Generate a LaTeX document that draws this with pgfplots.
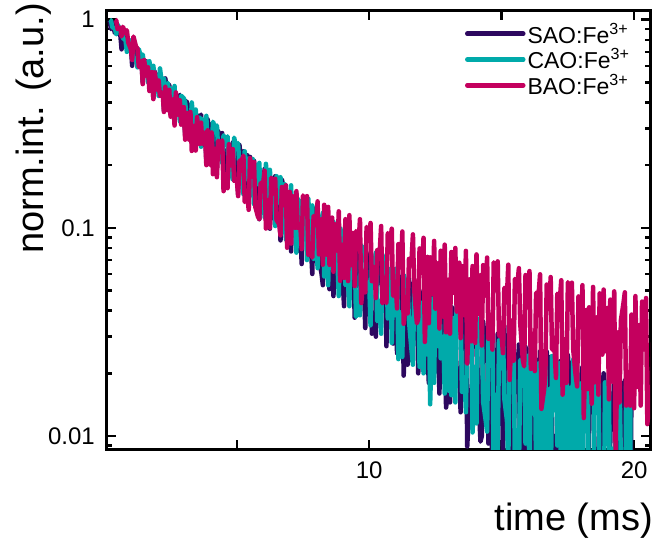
\documentclass[border=0pt]{standalone}
\usepackage{pgfplots}
\pgfplotsset{compat=1.18}
\usepackage{fontspec}
\setmainfont{Liberation Sans}

\definecolor{saoc}{RGB}{45,8,95}
\definecolor{caoc}{RGB}{0,170,170}
\definecolor{baoc}{RGB}{196,0,94}

\begin{document}
\begin{tikzpicture}
\useasboundingbox (-107pt,-96pt) rectangle (547pt,449pt);
\begin{axis}[
  scale only axis,
  width=543pt, height=438pt,
  ymode=log,
  xmin=0.1, xmax=20.6,
  ymin=0.00866, ymax=1.10,
  xtick={5,10,15,20},
  xticklabels={,10,,20},
  ytick={0.01,0.1,1},
  yticklabels={0.01,0.1,1},
  minor ytick={0.009,0.02,0.03,0.04,0.05,0.06,0.07,0.08,0.09,0.2,0.3,0.4,0.5,0.6,0.7,0.8,0.9},
  tick align=inside,
  major tick length=9pt,
  minor tick length=5pt,
  every tick/.style={black, line width=2.5pt},
  axis line style={line width=3pt},
  tick label style={font=\fontsize{24}{28}\selectfont, inner sep=0pt},
  xticklabel style={yshift=-13pt},
  yticklabel style={xshift=-12pt},
  xlabel={time (ms)},
  ylabel={norm.int. (a.u.)},
  label style={font=\fontsize{38}{42}\selectfont, inner sep=0pt},
  xlabel style={at={(axis description cs:1.0055,-0.1233)}, anchor=north east},
  ylabel style={at={(axis description cs:-0.1013,1.0183)}, anchor=south east},
  legend style={draw=none, fill=none, inner sep=0pt,
    font=\fontsize{23}{26}\selectfont,
    at={(axis description cs:0.659,0.978)}, anchor=north west,
    row sep=0pt},
  legend cell align=left,
  legend image code/.code={\draw[#1, line width=4.5pt, line cap=round] (0pt,0pt) -- (56pt,0pt);},
  every axis plot/.append style={line width=4.5pt, line join=round},
]
% SAO:Fe3+
\addplot[saoc] coordinates {
(0.2,0.99)(0.25,0.90)(0.3,0.975)(0.4,0.861)(0.45,0.91)(0.5,0.855)(0.6,0.856)(0.65,0.72)(0.7,0.849)(0.8,0.769)(0.85,0.815)(0.9,0.727)
(1.0,0.753)(1.05,0.60)(1.1,0.778)(1.2,0.638)(1.25,0.71)(1.3,0.614)(1.4,0.637)(1.45,0.50)(1.5,0.631)(1.6,0.629)(1.65,0.61)(1.7,0.507)(1.8,0.524)(1.85,0.42)(1.9,0.564)
(2.0,0.468)(2.05,0.545)(2.1,0.472)(2.2,0.501)(2.25,0.365)(2.3,0.522)(2.4,0.441)(2.45,0.485)(2.5,0.379)(2.6,0.380)(2.65,0.32)(2.7,0.432)(2.8,0.423)(2.85,0.435)(2.9,0.316)
(3.0,0.359)(3.05,0.28)(3.1,0.406)(3.2,0.363)(3.25,0.39)(3.3,0.306)(3.4,0.270)(3.45,0.245)(3.5,0.348)(3.6,0.333)(3.65,0.35)(3.7,0.250)(3.8,0.296)(3.85,0.21)(3.9,0.332)
(4.0,0.250)(4.05,0.315)(4.1,0.246)(4.2,0.296)(4.25,0.19)(4.3,0.291)(4.4,0.229)(4.45,0.285)(4.5,0.188)(4.6,0.235)(4.65,0.165)(4.7,0.251)(4.8,0.190)(4.85,0.257)(4.9,0.184)
(5.0,0.228)(5.05,0.145)(5.1,0.250)(5.2,0.188)(5.25,0.233)(5.3,0.182)(5.4,0.223)(5.45,0.127)(5.5,0.219)(5.6,0.146)(5.65,0.21)(5.7,0.127)(5.8,0.179)(5.85,0.11)(5.9,0.180)
(6.0,0.145)(6.05,0.192)(6.1,0.122)(6.2,0.173)(6.25,0.099)(6.3,0.173)(6.4,0.111)(6.45,0.177)(6.5,0.118)(6.6,0.142)(6.65,0.087)(6.7,0.171)(6.8,0.150)(6.85,0.161)(6.9,0.0947)
(7.0,0.106)(7.05,0.077)(7.1,0.130)(7.2,0.117)(7.25,0.146)(7.3,0.0775)(7.4,0.0998)(7.45,0.067)(7.5,0.131)(7.6,0.126)(7.65,0.132)(7.7,0.0863)(7.8,0.0807)(7.85,0.060)(7.9,0.124)
(8.0,0.102)(8.05,0.12)(8.1,0.0698)(8.2,0.0602)(8.25,0.053)(8.3,0.1006)(8.4,0.0953)(8.45,0.108)(8.5,0.0507)(8.6,0.0762)(8.65,0.047)(8.7,0.0993)(8.8,0.0886)(8.85,0.098)(8.9,0.0647)
(9.0,0.0554)(9.05,0.042)(9.1,0.0863)(9.2,0.0739)(9.25,0.090)(9.3,0.0462)(9.4,0.0842)(9.45,0.037)(9.5,0.0889)(9.6,0.0525)(9.65,0.083)(9.7,0.0472)(9.8,0.0541)(9.85,0.033)(9.9,0.0662)
(10.0,0.0688)(10.05,0.076)(10.1,0.0310)(10.2,0.0360)(10.25,0.030)(10.3,0.0707)(10.4,0.0543)(10.45,0.070)(10.5,0.0444)(10.6,0.0568)(10.65,0.027)(10.7,0.0619)(10.8,0.0349)(10.85,0.064)(10.9,0.0278)
(11.0,0.0573)(11.05,0.025)(11.1,0.0560)(11.2,0.0363)(11.25,0.059)(11.3,0.0195)(11.4,0.0398)(11.45,0.022)(11.5,0.0570)(11.6,0.0232)(11.65,0.054)(11.7,0.0294)(11.8,0.0458)(11.85,0.020)(11.9,0.0449)
(12.0,0.0394)(12.05,0.050)(12.1,0.0203)(12.2,0.0255)(12.25,0.018)(12.3,0.0517)(12.4,0.0428)(12.45,0.046)(12.5,0.0204)(12.6,0.0277)(12.65,0.016)(12.7,0.0350)(12.8,0.0347)(12.85,0.043)(12.9,0.0137)
(13.0,0.0173)(13.05,0.0145)(13.1,0.0417)(13.2,0.0402)(13.25,0.040)(13.3,0.0182)(13.4,0.0206)(13.45,0.013)(13.5,0.0372)(13.6,0.0265)(13.65,0.037)(13.7,0.0089)(13.8,0.0166)(13.85,0.0115)(13.9,0.0329)
(14.0,0.0295)(14.05,0.035)(14.1,0.0180)(14.2,0.0094)(14.25,0.010)(14.3,0.0355)(14.4,0.0250)(14.45,0.033)(14.5,0.0092)(14.6,0.0291)(14.65,0.003)(14.7,0.0260)(14.8,0.0040)(14.85,0.031)(14.9,0.0114)
(15.0,0.0262)(15.05,0.007)(15.1,0.0338)(15.2,0.0103)(15.25,0.029)(15.3,0.0085)(15.4,0.0203)(15.45,0.006)(15.5,0.0247)(15.6,0.0164)(15.65,0.0275)(15.7,0.0053)(15.8,0.0256)(15.85,0.005)(15.9,0.0268)
(16.0,0.0111)(16.05,0.026)(16.1,0.0106)(16.2,0.0201)(16.25,0.0045)(16.3,0.0233)(16.4,0.0056)(16.45,0.0255)(16.5,0.0024)(16.6,0.0209)(16.65,0.002)(16.7,0.0255)(16.8,0.0153)(16.85,0.024)(16.9,0.0082)
(17.0,0.0100)(17.05,0.0037)(17.1,0.0174)(17.2,0.0227)(17.25,0.023)(17.3,0.0037)(17.4,0.0071)(17.45,0.0035)(17.5,0.0245)(17.6,0.0156)(17.65,0.0225)(17.7,0.0058)(17.8,0.0104)(17.85,0.003)(17.9,0.0197)
(18.0,0.0182)(18.05,0.0215)(18.1,0.0019)(18.2,0.0040)(18.25,0.0028)(18.3,0.0158)(18.4,0.0159)(18.45,0.021)(18.5,0.0081)(18.6,0.0084)(18.65,0.0025)(18.7,0.0190)(18.8,0.0161)(18.85,0.020)(18.9,0.0007)
(19.0,0.0019)(19.05,0.002)(19.1,0.0160)(19.2,0.0129)(19.25,0.019)(19.3,0.0054)(19.4,0.0055)(19.45,0.002)(19.5,0.0180)(19.6,0.0148)(19.65,0.0185)(19.7,0.0025)(19.8,0.0078)(19.85,0.002)(19.9,0.0173)
(20.0,0.0158)
};
\addlegendentry{SAO:Fe\textsuperscript{3+}}
% CAO:Fe3+
\addplot[caoc] coordinates {
(0.2,1.0)(0.25,0.99)(0.3,0.919)(0.4,0.907)(0.45,0.85)(0.5,0.946)(0.6,0.891)(0.65,0.89)(0.7,0.815)(0.8,0.797)(0.85,0.70)(0.9,0.805)
(1.0,0.78)(1.05,0.80)(1.1,0.643)(1.2,0.651)(1.25,0.59)(1.3,0.722)(1.4,0.651)(1.45,0.68)(1.5,0.602)(1.6,0.627)(1.65,0.50)(1.7,0.631)(1.8,0.515)(1.85,0.60)(1.9,0.504)
(2.0,0.539)(2.05,0.43)(2.1,0.583)(2.2,0.466)(2.25,0.52)(2.3,0.432)(2.4,0.496)(2.45,0.37)(2.5,0.468)(2.6,0.392)(2.65,0.48)(2.7,0.353)(2.8,0.410)(2.85,0.325)(2.9,0.431)
(3.0,0.419)(3.05,0.40)(3.1,0.350)(3.2,0.329)(3.25,0.29)(3.3,0.400)(3.4,0.290)(3.45,0.37)(3.5,0.280)(3.6,0.338)(3.65,0.245)(3.7,0.333)(3.8,0.296)(3.85,0.345)(3.9,0.233)
(4.0,0.253)(4.05,0.215)(4.1,0.323)(4.2,0.300)(4.25,0.31)(4.3,0.234)(4.4,0.246)(4.45,0.205)(4.5,0.278)(4.6,0.256)(4.65,0.275)(4.7,0.189)(4.8,0.183)(4.85,0.17)(4.9,0.271)
(5.0,0.238)(5.05,0.255)(5.1,0.192)(5.2,0.212)(5.25,0.145)(5.3,0.233)(5.4,0.171)(5.45,0.215)(5.5,0.143)(5.6,0.214)(5.65,0.13)(5.7,0.201)(5.8,0.162)(5.85,0.205)(5.9,0.142)
(6.0,0.168)(6.05,0.112)(6.1,0.203)(6.2,0.128)(6.25,0.19)(6.3,0.142)(6.4,0.165)(6.45,0.102)(6.5,0.177)(6.6,0.132)(6.65,0.175)(6.7,0.0949)(6.8,0.162)(6.85,0.088)(6.9,0.144)
(7.0,0.100)(7.05,0.16)(7.1,0.0926)(7.2,0.128)(7.25,0.076)(7.3,0.138)(7.4,0.0995)(7.45,0.135)(7.5,0.0905)(7.6,0.124)(7.65,0.07)(7.7,0.138)(7.8,0.0748)(7.85,0.128)(7.9,0.0710)
(8.0,0.100)(8.05,0.064)(8.1,0.1028)(8.2,0.1095)(8.25,0.118)(8.3,0.0584)(8.4,0.0718)(8.45,0.053)(8.5,0.1045)(8.6,0.0835)(8.65,0.107)(8.7,0.0673)(8.8,0.0698)(8.85,0.047)(8.9,0.100)
(9.0,0.0911)(9.05,0.096)(9.1,0.0531)(9.2,0.0545)(9.25,0.042)(9.3,0.0817)(9.4,0.0752)(9.45,0.085)(9.5,0.0374)(9.6,0.041)(9.65,0.038)(9.7,0.0822)(9.8,0.0705)(9.85,0.081)(9.9,0.0511)
(10.0,0.055)(10.05,0.034)(10.1,0.0712)(10.2,0.0666)(10.25,0.076)(10.3,0.0356)(10.4,0.0378)(10.45,0.031)(10.5,0.0742)(10.6,0.0547)(10.65,0.068)(10.7,0.0367)(10.8,0.0635)(10.85,0.028)(10.9,0.0546)
(11.0,0.038)(11.05,0.064)(11.1,0.0234)(11.2,0.0393)(11.25,0.024)(11.3,0.0595)(11.4,0.0533)(11.45,0.052)(11.5,0.0358)(11.6,0.0256)(11.65,0.022)(11.7,0.0522)(11.8,0.0407)(11.85,0.054)(11.9,0.0215)
(12.0,0.0437)(12.05,0.020)(12.1,0.0475)(12.2,0.0246)(12.25,0.050)(12.3,0.0142)(12.4,0.0457)(12.45,0.018)(12.5,0.0491)(12.6,0.027)(12.65,0.046)(12.7,0.0236)(12.8,0.030)(12.85,0.016)(12.9,0.0381)
(13.0,0.0165)(13.05,0.043)(13.1,0.0157)(13.2,0.0369)(13.25,0.0145)(13.3,0.0451)(13.4,0.0313)(13.45,0.040)(13.5,0.0163)(13.6,0.0191)(13.65,0.013)(13.7,0.0304)(13.8,0.0343)(13.85,0.037)(13.9,0.0104)
(14.0,0.0215)(14.05,0.0115)(14.1,0.0367)(14.2,0.0283)(14.25,0.035)(14.3,0.0146)(14.4,0.0118)(14.45,0.0105)(14.5,0.0323)(14.6,0.0324)(14.65,0.033)(14.7,0.0063)(14.8,0.0158)(14.85,0.008)(14.9,0.0288)
(15.0,0.0212)(15.05,0.031)(15.1,0.0151)(15.2,0.0119)(15.25,0.007)(15.3,0.0321)(15.4,0.0246)(15.45,0.029)(15.5,0.0070)(15.6,0.0065)(15.65,0.006)(15.7,0.0232)(15.8,0.0207)(15.85,0.027)(15.9,0.0092)
(16.0,0.0243)(16.05,0.005)(16.1,0.0304)(16.2,0.0128)(16.25,0.026)(16.3,0.0066)(16.4,0.0223)(16.45,0.0045)(16.5,0.0219)(16.6,0.0078)(16.65,0.025)(16.7,0.0036)(16.8,0.0168)(16.85,0.004)(16.9,0.0242)
(17.0,0.0133)(17.05,0.024)(17.1,0.0090)(17.2,0.0224)(17.25,0.004)(17.3,0.0211)(17.4,0.0084)(17.45,0.023)(17.5,0.0013)(17.6,0.0171)(17.65,0.0035)(17.7,0.0233)(17.8,0.0040)(17.85,0.022)(17.9,0.0069)
(18.0,0.0179)(18.05,0.003)(18.1,0.0155)(18.2,0.0130)(18.25,0.0215)(18.3,0.0030)(18.4,0.0079)(18.45,0.003)(18.5,0.0223)(18.6,0.0198)(18.65,0.021)(18.7,0.0050)(18.8,0.0056)(18.85,0.0025)(18.9,0.0181)
(19.0,0.0135)(19.05,0.020)(19.1,0.0017)(19.2,0.0087)(19.25,0.002)(19.3,0.0142)(19.4,0.0165)(19.45,0.019)(19.5,0.0073)(19.6,0.0030)(19.65,0.002)(19.7,0.0173)(19.8,0.0141)(19.85,0.018)(19.9,0.0007)
(20.0,0.0071)
};
\addlegendentry{CAO:Fe\textsuperscript{3+}}
% BAO:Fe3+
\addplot[baoc] coordinates {
(0.4,1.0)(0.45,0.99)(0.5,0.900)(0.6,0.915)(0.65,0.83)(0.7,0.923)(0.8,0.857)(0.85,0.89)(0.9,0.778)
(1.0,0.722)(1.05,0.64)(1.1,0.829)(1.2,0.736)(1.25,0.73)(1.3,0.592)(1.4,0.634)(1.45,0.49)(1.5,0.640)(1.6,0.534)(1.65,0.59)(1.7,0.454)(1.8,0.560)(1.85,0.415)(1.9,0.558)
(2.0,0.459)(2.05,0.51)(2.1,0.430)(2.2,0.447)(2.25,0.36)(2.3,0.476)(2.4,0.367)(2.45,0.46)(2.5,0.342)(2.6,0.414)(2.65,0.31)(2.7,0.447)(2.8,0.349)(2.85,0.41)(2.9,0.313)
(3.0,0.380)(3.05,0.265)(3.1,0.356)(3.2,0.265)(3.25,0.36)(3.3,0.234)(3.4,0.309)(3.45,0.235)(3.5,0.340)(3.6,0.253)(3.65,0.32)(3.7,0.253)(3.8,0.287)(3.85,0.20)(3.9,0.294)
(4.0,0.201)(4.05,0.287)(4.1,0.181)(4.2,0.240)(4.25,0.175)(4.3,0.262)(4.4,0.252)(4.45,0.263)(4.5,0.150)(4.6,0.181)(4.65,0.155)(4.7,0.252)(4.8,0.199)(4.85,0.239)(4.9,0.168)
(5.0,0.172)(5.05,0.142)(5.1,0.209)(5.2,0.213)(5.25,0.222)(5.3,0.133)(5.4,0.142)(5.45,0.122)(5.5,0.216)(5.6,0.177)(5.65,0.207)(5.7,0.126)(5.8,0.113)(5.85,0.11)(5.9,0.164)
(6.0,0.165)(6.05,0.188)(6.1,0.0992)(6.2,0.136)(6.25,0.10)(6.3,0.174)(6.4,0.157)(6.45,0.172)(6.5,0.109)(6.6,0.104)(6.65,0.092)(6.7,0.157)(6.8,0.134)(6.85,0.16)(6.9,0.0802)
(7.0,0.149)(7.05,0.084)(7.1,0.142)(7.2,0.100)(7.25,0.15)(7.3,0.0999)(7.4,0.103)(7.45,0.079)(7.5,0.143)(7.6,0.128)(7.65,0.142)(7.7,0.0740)(7.8,0.0775)(7.85,0.072)(7.9,0.114)
(8.0,0.104)(8.05,0.134)(8.1,0.0745)(8.2,0.110)(8.25,0.0665)(8.3,0.129)(8.4,0.0743)(8.45,0.126)(8.5,0.0664)(8.6,0.112)(8.65,0.0615)(8.7,0.104)(8.8,0.0777)(8.85,0.12)(8.9,0.0556)
(9.0,0.083)(9.05,0.0575)(9.1,0.110)(9.2,0.0555)(9.25,0.115)(9.3,0.0661)(9.4,0.0944)(9.45,0.0525)(9.5,0.0964)(9.6,0.084)(9.65,0.11)(9.7,0.0435)(9.8,0.061)(9.85,0.049)(9.9,0.101)
(10.0,0.0896)(10.05,0.1055)(10.1,0.0554)(10.2,0.0648)(10.25,0.046)(10.3,0.0781)(10.4,0.0781)(10.45,0.102)(10.5,0.0434)(10.6,0.0465)(10.65,0.0435)(10.7,0.0943)(10.8,0.0866)(10.85,0.099)(10.9,0.0471)
(11.0,0.0537)(11.05,0.041)(11.1,0.0835)(11.2,0.0645)(11.25,0.096)(11.3,0.0346)(11.4,0.0456)(11.45,0.0388)(11.5,0.0709)(11.6,0.0708)(11.65,0.093)(11.7,0.0501)(11.8,0.0348)(11.85,0.0365)(11.9,0.0796)
(12.0,0.0638)(12.05,0.0895)(12.1,0.0283)(12.2,0.0725)(12.25,0.0348)(12.3,0.0722)(12.4,0.0481)(12.45,0.0865)(12.5,0.0409)(12.6,0.0676)(12.65,0.0328)(12.7,0.0776)(12.8,0.0374)(12.85,0.083)(12.9,0.0315)
(13.0,0.0564)(13.05,0.031)(13.1,0.0765)(13.2,0.0487)(13.25,0.080)(13.3,0.0396)(13.4,0.068)(13.45,0.0295)(13.5,0.0655)(13.6,0.038)(13.65,0.0775)(13.7,0.0223)(13.8,0.0566)(13.85,0.0285)(13.9,0.0655)
(14.0,0.028)(14.05,0.0745)(14.1,0.0385)(14.2,0.0592)(14.25,0.0272)(14.3,0.0662)(14.4,0.0472)(14.45,0.072)(14.5,0.0293)(14.6,0.0356)(14.65,0.026)(14.7,0.0683)(14.8,0.0616)(14.85,0.069)(14.9,0.0304)
(15.0,0.0299)(15.05,0.025)(15.1,0.0515)(15.2,0.0473)(15.25,0.0665)(15.3,0.0186)(15.4,0.0359)(15.45,0.023)(15.5,0.0568)(15.6,0.0543)(15.65,0.064)(15.7,0.0348)(15.8,0.0231)(15.85,0.0216)(15.9,0.0593)
(16.0,0.0477)(16.05,0.062)(16.1,0.0210)(16.2,0.031)(16.25,0.0205)(16.3,0.0487)(16.4,0.049)(16.45,0.0598)(16.5,0.0135)(16.6,0.0166)(16.65,0.0197)(16.7,0.0534)(16.8,0.0407)(16.85,0.058)(16.9,0.0262)
(17.0,0.0256)(17.05,0.019)(17.1,0.0482)(17.2,0.0456)(17.25,0.056)(17.3,0.0158)(17.4,0.0292)(17.45,0.018)(17.5,0.0548)(17.6,0.048)(17.65,0.0545)(17.7,0.0261)(17.8,0.0192)(17.85,0.0173)(17.9,0.0468)
(18.0,0.0338)(18.05,0.053)(18.1,0.0122)(18.2,0.0403)(18.25,0.0168)(18.3,0.0415)(18.4,0.0143)(18.45,0.052)(18.5,0.0181)(18.6,0.0372)(18.65,0.0158)(18.7,0.0484)(18.8,0.0246)(18.85,0.0505)(18.9,0.0255)
(19.0,0.0412)(19.05,0.015)(19.1,0.0452)(19.2,0.0182)(19.25,0.0495)(19.3,0.0086)(19.4,0.0315)(19.45,0.0145)(19.5,0.0358)(19.6,0.0436)(19.65,0.049)(19.7,0.0140)(19.8,0.0203)(19.85,0.014)(19.9,0.0383)
(20.0,0.0136)(20.05,0.047)(20.1,0.0172)(20.2,0.0341)(20.25,0.014)(20.3,0.0442)(20.4,0.026)(20.45,0.046)(20.5,0.0114)(20.6,0.0163)(20.65,0.0135)(20.7,0.0309)(20.8,0.0359)
};
\addlegendentry{BAO:Fe\textsuperscript{3+}}
\end{axis}
\end{tikzpicture}
\end{document}
